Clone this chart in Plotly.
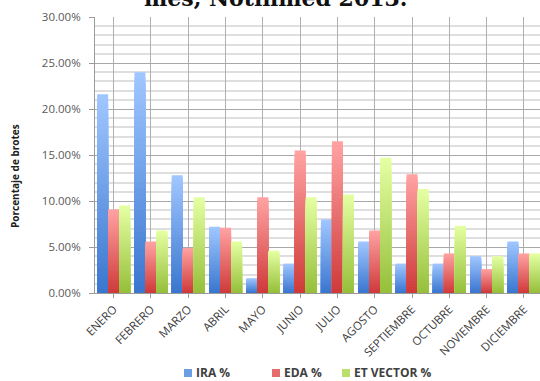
import plotly.graph_objects as go

# Monthly share of outbreaks by group
meses = ["ENERO", "FEBRERO", "MARZO", "ABRIL", "MAYO", "JUNIO", "JULIO",
         "AGOSTO", "SEPTIEMBRE", "OCTUBRE", "NOVIEMBRE", "DICIEMBRE"]
ira = [21.6, 24.0, 12.8, 7.2, 1.6, 3.2, 8.0, 5.6, 3.2, 3.2, 4.0, 5.6]
eda = [9.1, 5.6, 4.9, 7.1, 10.4, 15.5, 16.5, 6.8, 12.9, 4.3, 2.6, 4.3]
et_vector = [9.5, 6.8, 10.4, 5.6, 4.6, 10.4, 10.7, 14.7, 11.3, 7.3, 4.0, 4.3]

series = [
    ("IRA %", ira, (160, 198, 255), (56, 117, 206)),
    ("EDA %", eda, (255, 162, 162), (206, 56, 56)),
    ("ET VECTOR %", et_vector, (228, 255, 162), (148, 190, 56)),
]

BAR_W = 0.295
STEPS = 40

# plot area in pixels (for placing the hand-drawn legend)
L, R, T, B = 95, 540, 17, 293


def px_x(p):
    return (p - L) / (R - L)


def px_y(p):
    return (B - p) / (B - T)


def mix(c1, c2, t):
    return "rgb(%d,%d,%d)" % tuple(round(a + (b - a) * t) for a, b in zip(c1, c2))


fig = go.Figure()
for i, (name, vals, light, dark) in enumerate(series):
    offset = -1.5 * BAR_W + i * BAR_W
    frac_vals = [v / 100 for v in vals]
    # vertical gradient: nested layers, light at the top, dark at the base
    for k in range(STEPS, 0, -1):
        f = k / STEPS
        fig.add_trace(go.Bar(
            x=list(range(len(meses))),
            y=[v * f for v in frac_vals],
            width=BAR_W, offset=offset,
            marker=dict(color=mix(dark, light, f), line=dict(width=0)),
            showlegend=False, hoverinfo="skip",
        ))

fig.update_layout(
    width=540, height=381,
    margin=dict(l=L, r=540 - R, t=T, b=381 - B),
    barmode="overlay",
    paper_bgcolor="white", plot_bgcolor="white",
    font=dict(family="Open Sans", color="#404040"),
    showlegend=False,
    xaxis=dict(
        range=[-0.5, 11.43], automargin=False,
        tickmode="array", tickvals=list(range(len(meses))), ticktext=meses,
        tickangle=-45, tickfont=dict(size=11.5, color="#404040"),
        tickson="boundaries", ticks="outside", ticklen=4, tickcolor="#9a9a9a",
        showgrid=True, gridcolor="#b0b0b0", gridwidth=1,
        showline=True, linecolor="#9a9a9a", linewidth=1,
        zeroline=False,
    ),
    yaxis=dict(
        range=[0, 0.30], dtick=0.05, tickformat=".2%", automargin=False,
        tickfont=dict(size=11.5, color="#595959"),
        ticks="outside", ticklen=5, tickcolor="#9a9a9a",
        showgrid=True, gridcolor="#a8a8a8", gridwidth=1,
        minor=dict(dtick=0.01, showgrid=True, gridcolor="#dedede", gridwidth=1.5),
        showline=True, linecolor="#9a9a9a", linewidth=1,
        zeroline=False, ticklabelstandoff=6,
    ),
)

# legend: small swatch followed by bold label
legend_pos = [(184, 195), (272, 283), (342, 353)]
for (name, _, light, dark), (sx, tx) in zip(series, legend_pos):
    fig.add_shape(
        type="rect", xref="paper", yref="paper",
        x0=px_x(sx), x1=px_x(sx + 8), y0=px_y(377), y1=px_y(369),
        fillcolor=mix(dark, light, 0.5), line=dict(width=0),
    )
    fig.add_annotation(
        text="<b>%s</b>" % name, xref="paper", yref="paper",
        x=px_x(tx), y=px_y(372.5), xanchor="left", yanchor="middle",
        showarrow=False, borderpad=0,
        font=dict(size=12, color="#404040", family="Open Sans"),
    )

fig.add_annotation(
    text="<b>Porcentaje de brotes</b>", textangle=-90,
    xref="paper", yref="paper", x=px_x(15), y=px_y(176),
    xanchor="center", yanchor="middle", showarrow=False,
    font=dict(size=10, color="#202020", family="Open Sans"),
)

fig.add_annotation(
    text="<b>mes, Notinmed 2013.</b>",
    xref="paper", yref="paper", x=px_x(275), y=1.016,
    xanchor="center", yanchor="bottom", showarrow=False,
    font=dict(size=22, color="#111111", family="DejaVu Serif"),
)

fig.write_html("out.html")
